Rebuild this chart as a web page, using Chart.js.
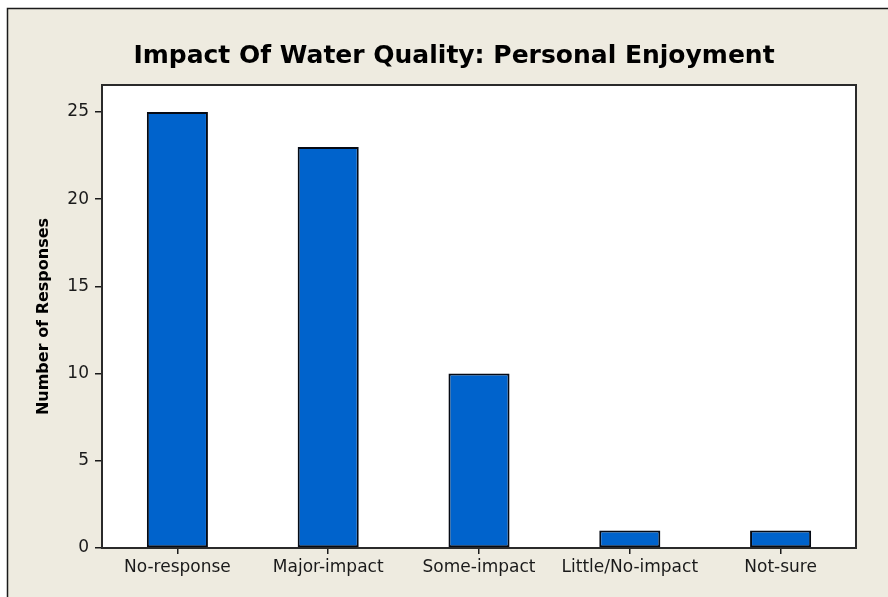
<!doctype html>
<html>
<head>
  <meta charset="utf-8" />
  <title>Impact Of Water Quality: Personal Enjoyment</title>
  <script src="https://cdn.jsdelivr.net/npm/chart.js"></script>
  <style>
    html, body { margin: 0; padding: 0; background: #fff; }
    #wrap { width: 888px; height: 597px; position: relative; }
  </style>
</head>
<body>
  <div id="wrap"><canvas id="chart" width="888" height="597"></canvas></div>
  <script>
    const categories = ['No-response', 'Major-impact', 'Some-impact', 'Little/No-impact', 'Not-sure'];
    const responses = [25, 23, 10, 1, 1];
    const yTicks = [0, 5, 10, 15, 20, 25];

    const BG = '#EEEBE0';
    const INK = '#1a1a1a';

    // beige panel with frame, white plot area, box around plot
    const panel = {
      id: 'panel',
      beforeDraw(chart) {
        const { ctx, chartArea: a } = chart;
        ctx.save();
        ctx.fillStyle = '#fff';
        ctx.fillRect(0, 0, chart.width, chart.height);
        ctx.fillStyle = BG;
        ctx.fillRect(7, 8, chart.width, chart.height);
        ctx.strokeStyle = INK;
        ctx.lineWidth = 1.5;
        ctx.strokeRect(7.5, 8.5, chart.width + 10, chart.height + 10);
        ctx.fillStyle = '#fff';
        ctx.fillRect(a.left, a.top, a.right - a.left, a.bottom - a.top);
        ctx.restore();
      },
      afterDraw(chart) {
        const { ctx, chartArea: a } = chart;
        ctx.save();
        ctx.strokeStyle = '#2a2a2a';
        ctx.lineWidth = 2;
        ctx.strokeRect(a.left, a.top, a.right - a.left, a.bottom - a.top);
        ctx.restore();
      }
    };

    new Chart(document.getElementById('chart'), {
      type: 'bar',
      data: {
        labels: categories,
        datasets: [{
          data: responses,
          backgroundColor: '#0063CC',
          borderColor: '#050a14',
          borderWidth: 2,
          borderSkipped: false,
          barPercentage: 0.405,
          categoryPercentage: 1
        }]
      },
      options: {
        responsive: false,
        animation: false,
        layout: { padding: { left: 52, right: 32, top: 0, bottom: 0 } },
        plugins: {
          legend: { display: false },
          tooltip: { enabled: false },
          title: {
            display: true,
            text: 'Impact Of Water Quality: Personal Enjoyment',
            color: '#000',
            font: { family: 'DejaVu Sans', size: 25, weight: 'bold', lineHeight: 1.2 },
            padding: { top: 41, bottom: 14 }
          }
        },
        scales: {
          x: {
            grid: { offset: false, drawOnChartArea: false, drawTicks: true, tickLength: 6, tickColor: INK, lineWidth: 1.5 },
            border: { display: true, color: '#2a2a2a', width: 2 },
            ticks: { color: '#1a1a1a', padding: 3, font: { family: 'DejaVu Sans', size: 17 }, maxRotation: 0 },
            afterFit(scale) { scale.height = 49; }
          },
          y: {
            min: 0,
            max: 26.55,
            grid: { drawOnChartArea: false, drawTicks: true, tickLength: 7, tickColor: INK, lineWidth: 1.5 },
            border: { display: true, color: '#2a2a2a', width: 2 },
            ticks: {
              stepSize: 5,
              includeBounds: false,
              color: '#1a1a1a',
              padding: 6,
              font: { family: 'DejaVu Sans', size: 17 }
            },
            afterBuildTicks(scale) { scale.ticks = yTicks.map(v => ({ value: v })); },
            title: {
              display: true,
              text: 'Number of Responses',
              color: '#000',
              font: { family: 'DejaVu Sans', size: 16, weight: 'bold', lineHeight: 1.2 },
              padding: { top: -18, bottom: 0 }
            },
            afterFit(scale) { scale.width = 50; }
          }
        }
      },
      plugins: [panel]
    });
  </script>
</body>
</html>
